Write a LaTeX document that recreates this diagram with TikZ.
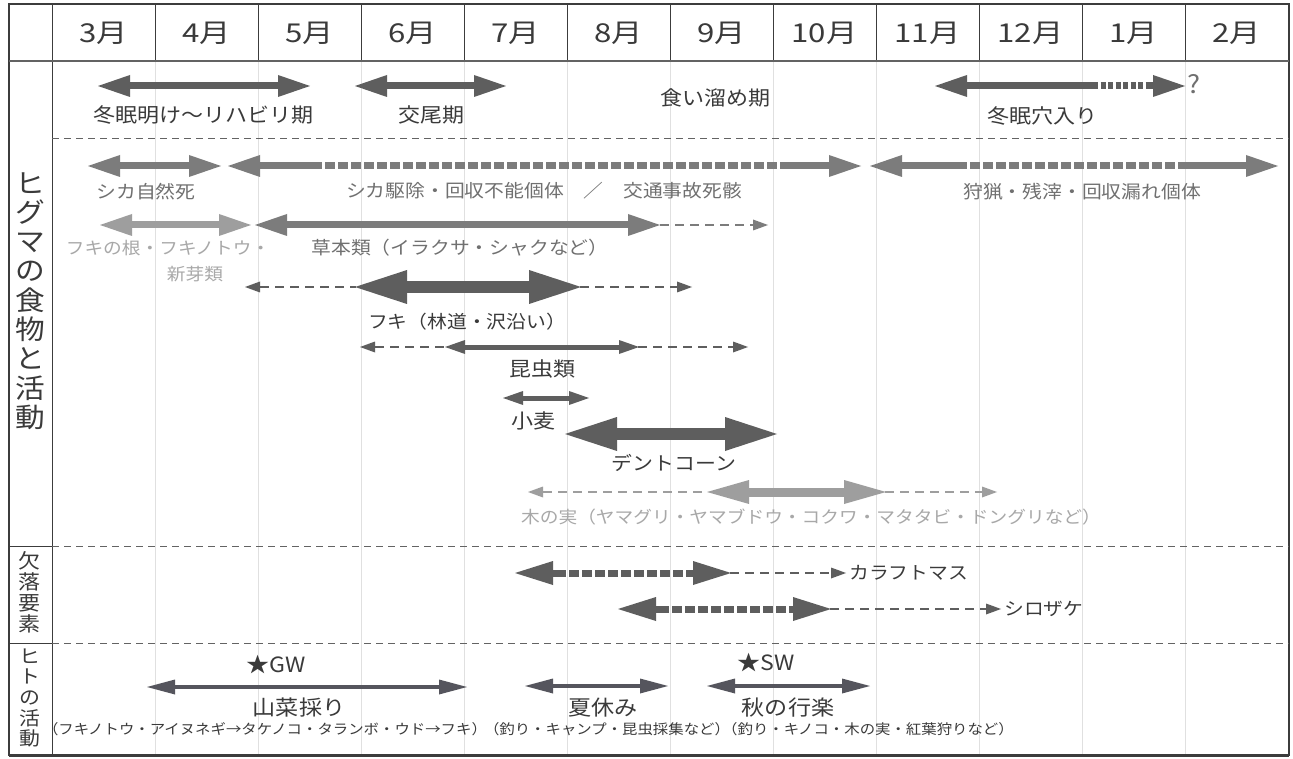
\documentclass[tikz,border=0pt]{standalone}
\usepackage{fontspec}
\setmainfont{Noto Sans CJK JP}[FakeStretch=1.1]
\newfontfamily\monthfont{Noto Sans CJK JP}[FakeStretch=1.2]
\usetikzlibrary{arrows.meta}
\definecolor{frame}{HTML}{3C3C3C}
\definecolor{gridc}{HTML}{E0E0E0}
\definecolor{adark}{HTML}{5E5E5E}
\definecolor{amid}{HTML}{7C7C7C}
\definecolor{alight}{HTML}{9E9E9E}
\definecolor{ahuman}{HTML}{55555D}
\definecolor{tdark}{HTML}{3A3A3A}
\definecolor{tmid}{HTML}{707070}
\definecolor{tlight}{HTML}{A8A8A8}
\tikzset{
  hdL/.tip={Triangle[length=32pt,width=22pt,line width=0pt]},
  hdXL/.tip={Triangle[length=52pt,width=34pt,line width=0pt]},
  hdK/.tip={Triangle[length=42pt,width=24pt,line width=0pt]},
  hdF/.tip={Triangle[length=38pt,width=24pt,line width=0pt]},
  hdM/.tip={Triangle[length=20pt,width=14pt,line width=0pt]},
  hdS/.tip={Triangle[length=15pt,width=11pt,line width=0pt]},
  hdH/.tip={Triangle[length=28pt,width=15pt,line width=0pt]},
  shaft/.style={line width=7pt},
  shaftXL/.style={line width=12pt},
  shaftK/.style={line width=9pt},
  shaftM/.style={line width=5pt},
  shaftH/.style={line width=4.5pt},
  dthick/.style={line width=7pt, dash pattern=on 10pt off 3pt},
  dthin/.style={line width=2.5pt, dash pattern=on 9pt off 6pt},
  dotted sq/.style={line width=7pt, dash pattern=on 5pt off 2.5pt},
  month/.style={font=\monthfont\fontsize{26}{28}\selectfont, text=tdark, inner sep=0pt},
  phase/.style={font=\fontsize{20}{22}\selectfont, text=tdark, inner sep=0pt},
  food/.style={font=\fontsize{18}{20}\selectfont, inner sep=0pt},
  human/.style={font=\fontsize{21}{23}\selectfont, text=tdark, inner sep=0pt},
  sub/.style={font=\fontsize{14}{16}\selectfont, text=tdark, inner sep=0pt},
  side/.style={align=center, text=tdark, inner sep=0pt},
  sect/.style={frame!80, line width=0.9pt, dash pattern=on 7pt off 5pt},
}
\begin{document}
\begin{tikzpicture}[x=1pt,y=-1pt]
\useasboundingbox (0,0) rectangle (1293,759);
\fill[white] (0,0) rectangle (1293,759);
% light month grid in body
\foreach \i in {1,...,11}
  \draw[gridc, line width=1pt] ({52+103*\i},61) -- ({52+103*\i},755);
% header vertical lines
\foreach \i in {1,...,11}
  \draw[frame, line width=1pt] ({52+103*\i},4) -- ({52+103*\i},61);
% frame
\draw[frame, line width=1.5pt] (9,4) rectangle (1289,755);
\draw[frame, line width=3pt] (9,755) -- (1289,755);
\draw[frame, line width=2pt] (1289,4) -- (1289,755);
\draw[frame, line width=1pt] (52,4) -- (52,755);
\draw[frame!80, line width=1.6pt] (9,61) -- (1289,61);
% section separators
\draw[sect] (52,138) -- (1289,138);
\draw[sect] (52,546) -- (1289,546);
\draw[sect] (52,643) -- (1289,643);
\draw[frame, line width=1pt] (9,546) -- (52,546);
\draw[frame, line width=1pt] (9,643) -- (52,643);
% month labels
\foreach \m [count=\i from 0] in {3,4,5,6,7,8,9,10,11,12,1,2}
  \node[month] (m\i) at ({52+103*\i+51.5},33) {\m 月};
% side labels
\node[side, font=\fontsize{27}{29.3}\selectfont] (sideA) at (30,301) {ヒ\\グ\\マ\\の\\食\\物\\と\\活\\動};
\node[side, font=\fontsize{20}{21}\selectfont] (sideB) at (30,592) {欠\\落\\要\\素};
\node[side, font=\fontsize{19}{20.6}\selectfont] (sideC) at (30,698) {ヒ\\ト\\の\\活\\動};

% ---- bear phases ----
\draw[shaft, adark, hdL-hdL] (98,86) -- (310,86);
\node[phase] (p1) at (203,115) {冬眠明け〜リハビリ期};
\draw[shaft, adark, hdL-hdL] (355,86) -- (506,86);
\node[phase] (p2) at (431,115) {交尾期};
\node[phase] (p3) at (715,98) {食い溜め期};
\draw[shaft, adark, hdL-] (935,86) -- (1093,86);
\draw[dotted sq, adark] (1093,86) -- (1152,86);
\draw[shaft, adark, -hdL] (1150,86) -- (1185,86);
\node[phase, anchor=west, font=\fontsize{25}{27}\selectfont, text=tmid] (q) at (1187,84) {?};
\node[phase] (p4) at (1042,116) {冬眠穴入り};

% ---- deer ----
\draw[shaft, amid, hdL-hdL] (88,166) -- (221,166);
\node[food, text=tmid] (f1) at (146,192) {シカ自然死};
\draw[shaft, amid, hdL-] (228,166) -- (312,166);
\draw[dthick, amid] (312,166) -- (792,166);
\draw[shaft, amid, -hdL] (790,166) -- (861,166);
\node[food, text=tmid] (f2) at (544,191) {シカ駆除・回収不能個体　／　交通事故死骸};
\draw[shaft, amid, hdL-] (870,166) -- (957,166);
\draw[dthick, amid] (957,166) -- (1180,166);
\draw[shaft, amid, -hdL] (1178,166) -- (1278,166);
\node[food, text=tmid] (f3) at (1082,192) {狩猟・残滓・回収漏れ個体};

% ---- plants ----
\draw[shaft, alight, hdL-hdL] (100,225) -- (251,225);
\node[food, text=tlight, font=\fontsize{17}{19}\selectfont] (f4a) at (168,248) {フキの根・フキノトウ・};
\node[food, text=tlight, font=\fontsize{17}{19}\selectfont] (f4b) at (195,274) {新芽類};
\draw[shaft, amid, hdL-hdL] (255,225) -- (660,225);
\draw[dthin, amid, -hdS] (660,225) -- (768,225);
\node[food, text=tmid] (f5) at (460,248) {草本類（イラクサ・シャクなど）};

% ---- fuki ----
\draw[dthin, adark, hdS-] (245,287) -- (356,287);
\draw[shaftXL, adark, hdXL-hdXL] (355,287) -- (581,287);
\draw[dthin, adark, -hdS] (580,287) -- (692,287);
\node[food, text=tdark] (f6) at (467,322) {フキ（林道・沢沿い）};

% ---- insects ----
\draw[dthin, adark, hdS-] (360,347) -- (446,347);
\draw[shaftM, adark, hdM-hdM] (445,347) -- (639,347);
\draw[dthin, adark, -hdS] (638,347) -- (748,347);
\node[food, text=tdark, font=\fontsize{20}{22}\selectfont] (f7) at (542,369) {昆虫類};

% ---- wheat ----
\draw[shaftM, adark, hdM-hdM] (503,398) -- (589,398);
\node[food, text=tdark, font=\fontsize{20}{22}\selectfont] (f8) at (533,421) {小麦};

% ---- dent corn ----
\draw[shaftXL, adark, hdXL-hdXL] (565,434) -- (777,434);
\node[food, text=tdark, font=\fontsize{19}{21}\selectfont] (f9) at (674,463) {デントコーン};

% ---- nuts ----
\draw[dthin, alight, hdS-] (528,492) -- (708,492);
\draw[shaftK, alight, hdK-hdK] (707,492) -- (886,492);
\draw[dthin, alight, -hdS] (885,492) -- (997,492);
\node[food, text=tlight, font=\fontsize{17}{19}\selectfont] (f10) at (811,517) {木の実（ヤマグリ・ヤマブドウ・コクワ・マタタビ・ドングリなど）};

% ---- salmon ----
\draw[shaft, adark, hdF-] (515,573) -- (560,573);
\draw[dthick, adark] (556,573) -- (702,573);
\draw[shaft, adark, -hdF] (698,573) -- (731,573);
\draw[dthin, adark, -hdS] (730,573) -- (846,573);
\node[food, text=tdark, anchor=west] (s1) at (849,573) {カラフトマス};
\draw[shaft, adark, hdF-] (618,609) -- (663,609);
\draw[dthick, adark] (659,609) -- (802,609);
\draw[shaft, adark, -hdF] (798,609) -- (831,609);
\draw[dthin, adark, -hdS] (830,609) -- (1001,609);
\node[food, text=tdark, anchor=west] (s2) at (1004,609) {シロザケ};

% ---- human ----
\node[human] (gw) at (276,665) {★GW};
\draw[shaftH, ahuman, hdH-hdH] (147,687) -- (467,687);
\node[human] (h1) at (299,708) {山菜採り};
\node[sub] (h1s) at (265,729) {（フキノトウ・アイヌネギ→タケノコ・タランボ・ウド→フキ）};
\draw[shaftH, ahuman, hdH-hdH] (525,686) -- (668,686);
\node[human] (h2) at (603,708) {夏休み};
\node[sub] (h2s) at (607,729) {（釣り・キャンプ・昆虫採集など）};
\node[human] (sw) at (766,663) {★SW};
\draw[shaftH, ahuman, hdH-hdH] (707,686) -- (870,686);
\node[human] (h3) at (788,708) {秋の行楽};
\node[sub] (h3s) at (868,729) {（釣り・キノコ・木の実・紅葉狩りなど）};
\end{tikzpicture}
\end{document}
